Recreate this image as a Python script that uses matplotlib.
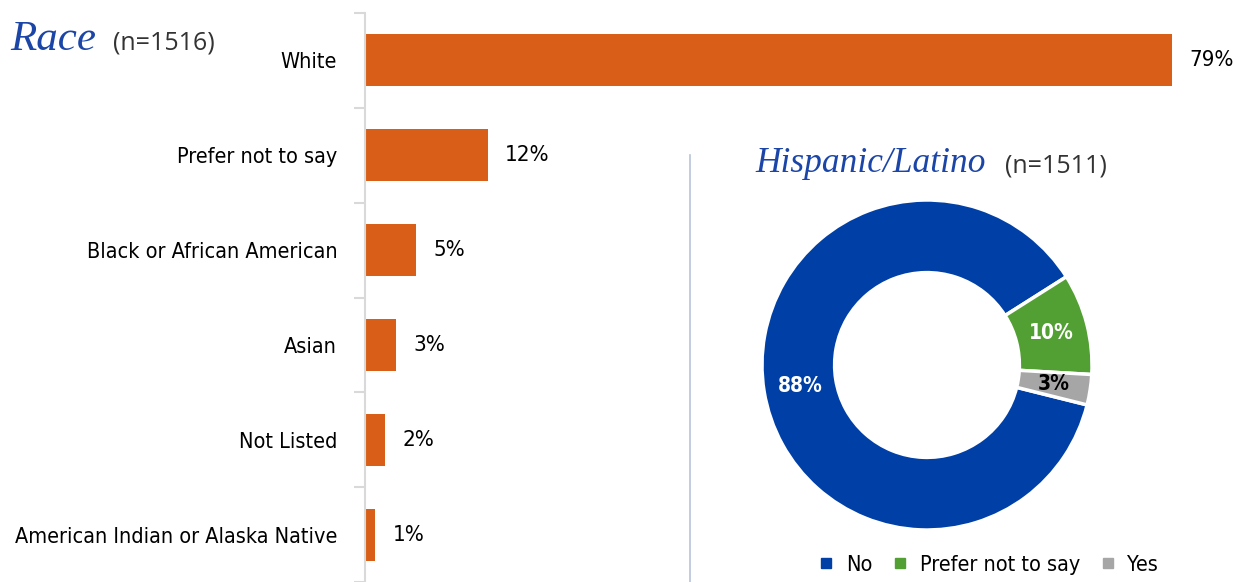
import matplotlib
matplotlib.use("Agg")
import matplotlib.pyplot as plt
from matplotlib import font_manager as fm
from matplotlib.lines import Line2D
import numpy as np

# --- data ---
race_labels = ["White", "Prefer not to say", "Black or African American",
               "Asian", "Not Listed", "American Indian or Alaska Native"]
race_values = [79, 12, 5, 3, 2, 1]

hisp_labels = ["No", "Prefer not to say", "Yes"]
hisp_values = [88, 10, 3]

ORANGE = "#D95F18"
HISP_COLORS = ["#003FA6", "#52A033", "#A6A6A6"]
TITLE_BLUE = "#1B46A8"
SERIF = ["Liberation Serif", "DejaVu Serif"]


def _is_condensed(f):
    st = f.stretch
    if isinstance(st, str):
        return st in ("condensed", "semi-condensed", "extra-condensed")
    return st <= 87


# condensed sans if one is around, else plain DejaVu at a smaller size
cond = [f for f in fm.fontManager.ttflist
        if f.name in ("DejaVu Sans", "Noto Sans", "Open Sans", "Roboto")
        and _is_condensed(f) and f.style == "normal"]
if cond:
    NARROW = dict(family=[cond[0].name, "DejaVu Sans"], stretch="condensed")
    FS = 15
else:
    NARROW = dict(family=["DejaVu Sans"])
    FS = 12.5

W, H = 1242, 582
fig = plt.figure(figsize=(W / 100, H / 100), dpi=100)

# --- race bar chart ---
ax = fig.add_axes([365 / W, 0.0, 1 - 365 / W, 1 - 13 / H])
y = np.arange(len(race_values))
ax.barh(y, race_values, height=0.55, color=ORANGE)
ax.set_ylim(len(race_values) - 0.5, -0.5)
ax.set_xlim(0, (W - 365) / 10.22)
for i, v in enumerate(race_values):
    ax.text(v + 1.7, i, f"{v}%", va="center", ha="left", fontsize=FS + 1,
            color="black", **NARROW)
ax.set_yticks(y)
ax.set_yticklabels(race_labels, fontsize=FS + 0.5, **NARROW)
ax.set_yticks(np.arange(len(race_values) + 1) - 0.5, minor=True)
ax.tick_params(axis="y", which="major", length=0, pad=20)
ax.tick_params(axis="y", which="minor", length=8, color="#D9D9D9", width=1.5)
ax.set_xticks([])
for s in ["top", "right", "bottom"]:
    ax.spines[s].set_visible(False)
ax.spines["left"].set_color("#D9D9D9")
ax.spines["left"].set_linewidth(1.5)

fig.text(10 / W, 1 - 50 / H, "Race", family=SERIF, style="italic",
         fontsize=31, color=TITLE_BLUE, va="baseline")
fig.text(113 / W, 1 - 50 / H, "(n=1516)", fontsize=18, color="#333333",
         family=["Open Sans", "DejaVu Sans"], va="baseline")

# divider line
fig.add_artist(Line2D([690 / W, 690 / W], [0, 1 - 155 / H],
                      color="#B8C3DA", linewidth=1.2))

# --- hispanic donut ---
cx, cy, R = 927, 365, 165
pax = fig.add_axes([(cx - R) / W, (H - cy - R) / H, 2 * R / W, 2 * R / H])
wedges, _ = pax.pie(hisp_values, colors=HISP_COLORS, startangle=346,
                    counterclock=False, radius=1,
                    wedgeprops=dict(width=0.44, edgecolor="white", linewidth=2.5))
pax.set_xlim(-1, 1)
pax.set_ylim(-1, 1)
pax.set_aspect("equal")
total = sum(hisp_values)
ang = 346
for v, col in zip(hisp_values, ["white", "white", "black"]):
    span = 360 * v / total
    mid = np.deg2rad(ang - span / 2)
    ang -= span
    r = 0.78
    pax.text(r * np.cos(mid), r * np.sin(mid), f"{v}%", ha="center",
             va="center", fontsize=FS, color=col, fontweight="bold", **NARROW)

fig.text(755 / W, 1 - 172 / H, "Hispanic/Latino", family=SERIF,
         style="italic", fontsize=25.5, color=TITLE_BLUE, va="baseline")
fig.text(1005 / W, 1 - 172 / H, "(n=1511)", fontsize=18, color="#333333",
         family=["Open Sans", "DejaVu Sans"], va="baseline")

handles = [Line2D([], [], marker="s", linestyle="none", markersize=7,
                  markerfacecolor=c, markeredgecolor=c) for c in HISP_COLORS]
fig.legend(handles, hisp_labels, loc="center", bbox_to_anchor=(988 / W, 1 - 565 / H),
           ncol=3, frameon=False, handlelength=0.8, handletextpad=0.5,
           columnspacing=0.9, prop=dict(size=FS + 0.5, **NARROW))

fig.savefig("out.png", dpi=100)
